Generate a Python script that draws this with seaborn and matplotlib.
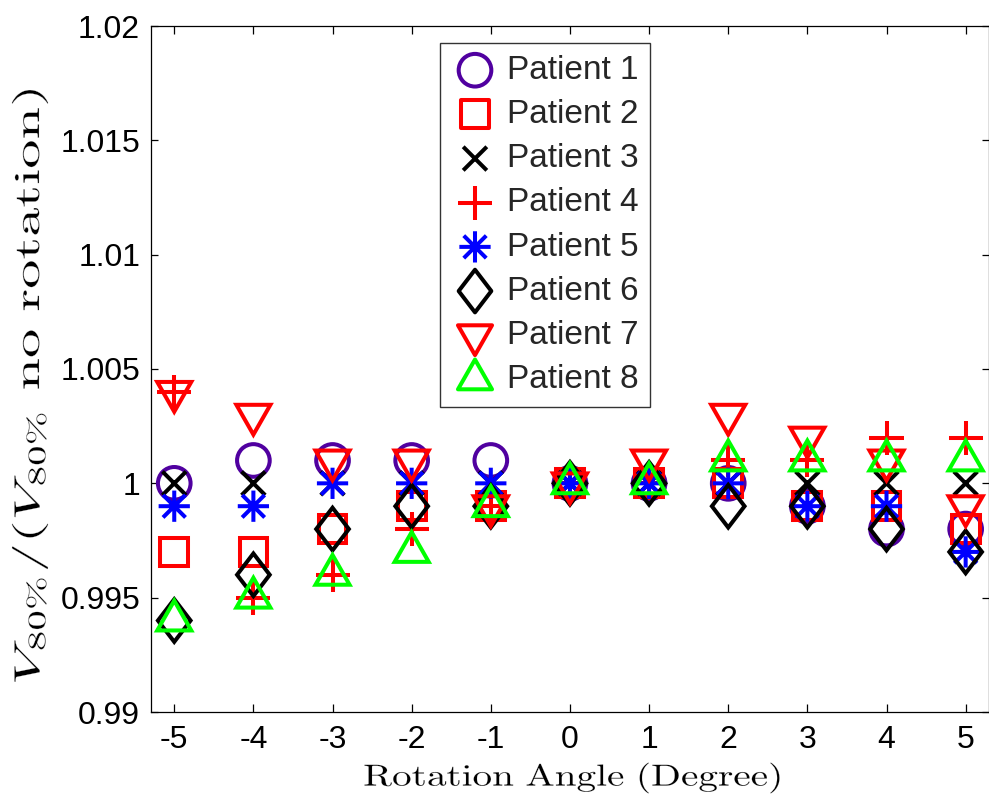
import numpy as np
import pandas as pd
import matplotlib
matplotlib.use("Agg")
import matplotlib.pyplot as plt
from matplotlib.path import Path
from matplotlib.textpath import TextPath
from matplotlib.patches import PathPatch
from matplotlib.transforms import Affine2D
import seaborn as sns

# values
angles = [-5, -4, -3, -2, -1, 0, 1, 2, 3, 4, 5]
patient_1 = [1.000, 1.001, 1.001, 1.001, 1.001, 1.000, 1.000, 1.000, 0.999, 0.998, 0.998]
patient_2 = [0.997, 0.997, 0.998, 0.999, 0.999, 1.000, 1.000, 1.000, 0.999, 0.999, 0.998]
patient_3 = [1.000, 1.000, 1.000, 1.000, 1.000, 1.000, 1.000, 1.000, 1.000, 1.000, 1.000]
patient_4 = [1.004, 0.995, 0.996, 0.998, 0.999, 1.000, 1.000, 1.001, 1.001, 1.002, 1.002]
patient_5 = [0.999, 0.999, 1.000, 1.000, 1.000, 1.000, 1.000, 1.000, 0.999, 0.999, 0.997]
patient_6 = [0.994, 0.996, 0.998, 0.999, 0.999, 1.000, 1.000, 0.999, 0.999, 0.998, 0.997]
patient_7 = [1.004, 1.003, 1.001, 1.001, 0.999, 1.000, 1.001, 1.003, 1.002, 1.001, 0.999]
patient_8 = [0.994, 0.995, 0.996, 0.997, 0.999, 1.000, 1.000, 1.001, 1.001, 1.001, 1.001]

patient_names = ["Patient 1", "Patient 2", "Patient 3", "Patient 4",
                 "Patient 5", "Patient 6", "Patient 7", "Patient 8"]
xtick_values = angles
ytick_values = [0.99, 0.995, 1.0, 1.005, 1.01, 1.015, 1.02]
ytick_labels = ["0.99", "0.995", "1", "1.005", "1.01", "1.015", "1.02"]
x_label = r"$\mathrm{Rotation\ Angle\ (Degree)}$"
y_label = r"$V_{80\%}/(V_{80\%}\ \mathrm{no\ rotation})$"

series = [patient_1, patient_2, patient_3, patient_4,
          patient_5, patient_6, patient_7, patient_8]
df = pd.concat(
    [pd.DataFrame({"angle": angles, "ratio": vals, "patient": name})
     for name, vals in zip(patient_names, series)],
    ignore_index=True,
)


def closed_path(verts):
    verts = list(verts) + [verts[0]]
    codes = [Path.MOVETO] + [Path.LINETO] * (len(verts) - 2) + [Path.CLOSEPOLY]
    return Path(verts, codes)


def segments_path(segs):
    verts, codes = [], []
    for a, b in segs:
        verts += [a, b]
        codes += [Path.MOVETO, Path.LINETO]
    return Path(verts, codes)


# matlab-ish marker shapes (triangles centred on their centroid)
d = 0.72
MARKERS = {
    "Patient 1": ("o", "#5000a0", 23.5),
    "Patient 2": (closed_path([(-1, -1), (1, -1), (1, 1), (-1, 1)]), "#ff0000", 20),
    "Patient 3": (segments_path([((-1, -1), (1, 1)), ((-1, 1), (1, -1))]), "#000000", 17),
    "Patient 4": (segments_path([((-1, 0), (1, 0)), ((0, -1), (0, 1))]), "#ff0000", 24.5),
    "Patient 5": (segments_path([((-1, 0), (1, 0)), ((0, -1), (0, 1)),
                                 ((-d, -d), (d, d)), ((-d, d), (d, -d))]), "#0000ff", 22.5),
    "Patient 6": (closed_path([(0, 1), (0.766, 0), (0, -1), (-0.766, 0)]), "#000000", 30.7),
    "Patient 7": (closed_path([(0, -1.167), (1, 0.583), (-1, 0.583)]), "#ff0000", 28.6),
    "Patient 8": (closed_path([(0, 1.167), (1, -0.583), (-1, -0.583)]), "#00ff00", 28.6),
}

sns.set_style("ticks")
plt.rcParams["font.family"] = ["Liberation Sans", "DejaVu Sans"]
plt.rcParams["mathtext.fontset"] = "cm"
plt.rcParams["axes.unicode_minus"] = False

DPI = 100
fig = plt.figure(figsize=(9.89, 7.97), dpi=DPI)
ax = fig.add_axes([151.3 / 989, 85 / 797, 837.3 / 989, 686 / 797])

for name in patient_names:
    marker, color, ms = MARKERS[name]
    sub = df[df["patient"] == name]
    sns.scatterplot(
        data=sub, x="angle", y="ratio", ax=ax,
        marker=marker, s=ms ** 2, facecolor="none", edgecolor=color,
        linewidth=2.9, joinstyle="miter", label=name, zorder=3,
        clip_on=False,
    )

ax.set_xlim(-5.29, 5.29)
ax.set_ylim(0.99, 1.02)
ax.set_xticks(xtick_values)
ax.set_xticklabels([str(v) for v in xtick_values])
ax.set_yticks(ytick_values)
ax.set_yticklabels(ytick_labels)

for side in ["top", "right", "left", "bottom"]:
    ax.spines[side].set_visible(True)
    ax.spines[side].set_linewidth(0.9)
    ax.spines[side].set_color("black")
ax.tick_params(axis="both", which="major", direction="in", top=True, right=True,
               labelsize=23, colors="black", width=0.9)
ax.tick_params(axis="x", length=6, pad=9)
ax.tick_params(axis="y", length=5, pad=8)
ax.set_xlabel("")
ax.set_ylabel("")


# the latex labels in the original come out wide, so draw them stretched
# (a thin white outline keeps the stretched strokes from looking bold)
def stretched_label(text, size, length_px, cx, cy, rotation, edge):
    tp = TextPath((0, 0), text, size=size)
    bb = tp.get_extents()
    k = DPI / 72
    stretch = length_px / (bb.width * k)
    tr = (Affine2D()
          .translate(-(bb.x0 + bb.x1) / 2, -(bb.y0 + bb.y1) / 2)
          .scale(stretch * k, k)
          .rotate_deg(rotation)
          .translate(cx, 797 - cy))
    fig.add_artist(PathPatch(tp, transform=tr, facecolor="black",
                             edgecolor="white", lw=edge))


stretched_label(x_label, 22, 415, 572, 778, 0, 0.12)
stretched_label(y_label, 26, 592, 30, 386, 90, 0.2)

leg = ax.legend(
    loc="upper left", bbox_to_anchor=(440 / 989, 1 - 43.3 / 797),
    bbox_transform=fig.transFigure, borderaxespad=0, fontsize=24,
    frameon=True, fancybox=False, framealpha=1, edgecolor="#333333",
    handlelength=1.4, handletextpad=0.26, borderpad=0.35, labelspacing=0.395,
    scatterpoints=1,
)
leg.get_frame().set_linewidth(1.0)

fig.savefig("out.png", dpi=DPI)
